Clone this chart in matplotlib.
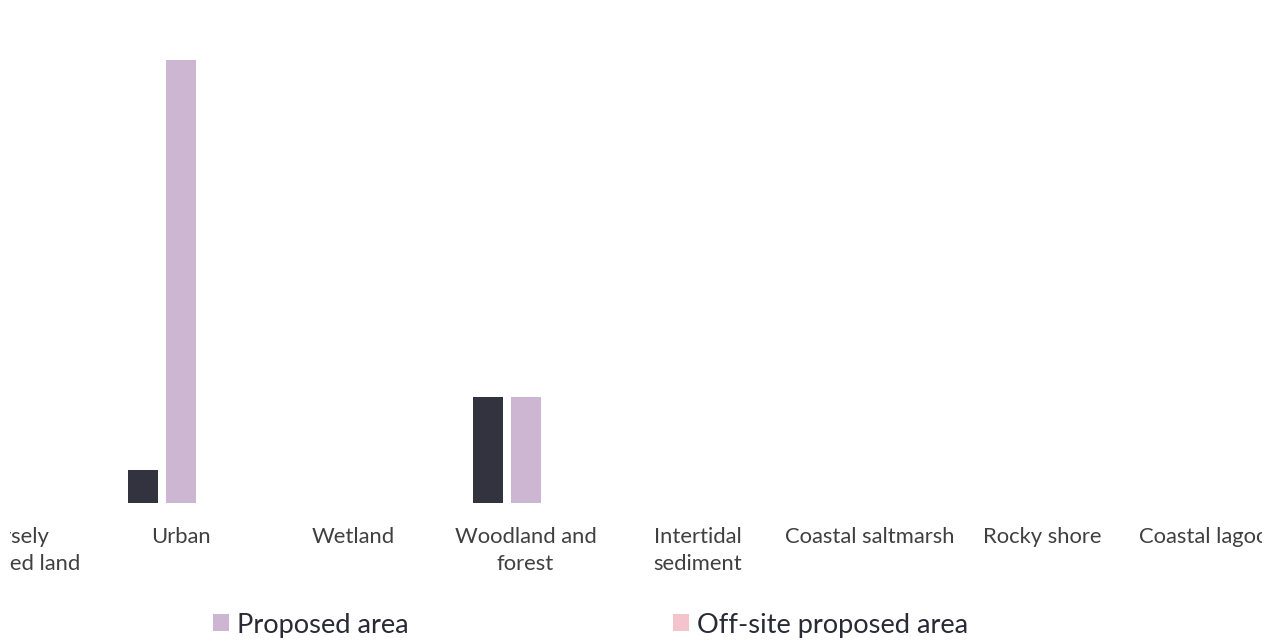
import matplotlib
matplotlib.use("Agg")
import matplotlib.pyplot as plt
from matplotlib.transforms import Bbox
import numpy as np

plt.rcParams['font.family'] = ['Lato', 'DejaVu Sans']

# Broad habitat types
habitats = ["Sparsely\nvegetated land", "Urban", "Wetland", "Woodland and\nforest",
            "Intertidal\nsediment", "Coastal saltmarsh", "Rocky shore", "Coastal lagoons"]

# Area (ha) per habitat
baseline_area = [0, 0.45, 0, 1.44, 0, 0, 0, 0]
proposed_area = [0, 6.0, 0, 1.44, 0, 0, 0, 0]
offsite_area = [0, 0, 0, 0, 0, 0, 0, 0]

col_baseline = "#33333f"
col_proposed = "#cdb6d2"
col_offsite = "#f3c4cc"

W, H = 1266, 641
fig = plt.figure(figsize=(W / 100, H / 100), dpi=100)
base_px = 503
ax = fig.add_axes([0, (H - base_px) / H, 1, base_px / H])

x = np.arange(len(habitats))
step = 172.2
width = 30 / step
off = 38 / step

ax.bar(x - off, baseline_area, width, color=col_baseline)
b2 = ax.bar(x, proposed_area, width, color=col_proposed, label="Proposed area")
b3 = ax.bar(x + off, offsite_area, width, color=col_offsite, label="Off-site proposed area")

ax.set_xlim(-9 / step, (W - 9) / step)
ax.set_ylim(0, 6.0 * base_px / 443)

for s in ax.spines.values():
    s.set_visible(False)
ax.set_yticks([])
ax.set_xticks(x)
ax.set_xticklabels(habitats, fontsize=15.8, color="#404040", linespacing=1.45)
ax.tick_params(axis="x", length=0, pad=17)

clip = Bbox.from_extents(10, 0, 1262, H)
for lbl in ax.get_xticklabels():
    lbl.set_clip_box(clip)
    lbl.set_clip_on(True)

fig.legend(handles=[b2, b3], labels=["Proposed area", "Off-site proposed area"],
           loc="center left", bbox_to_anchor=(213 / W, 1 - 625 / H),
           ncol=2, frameon=False, fontsize=19.6, labelcolor="#2a2a36",
           borderpad=0, borderaxespad=0, handlelength=0.59, handleheight=0.59,
           handletextpad=0.3, columnspacing=9.7)

fig.savefig("out.png", dpi=100, facecolor="white")
